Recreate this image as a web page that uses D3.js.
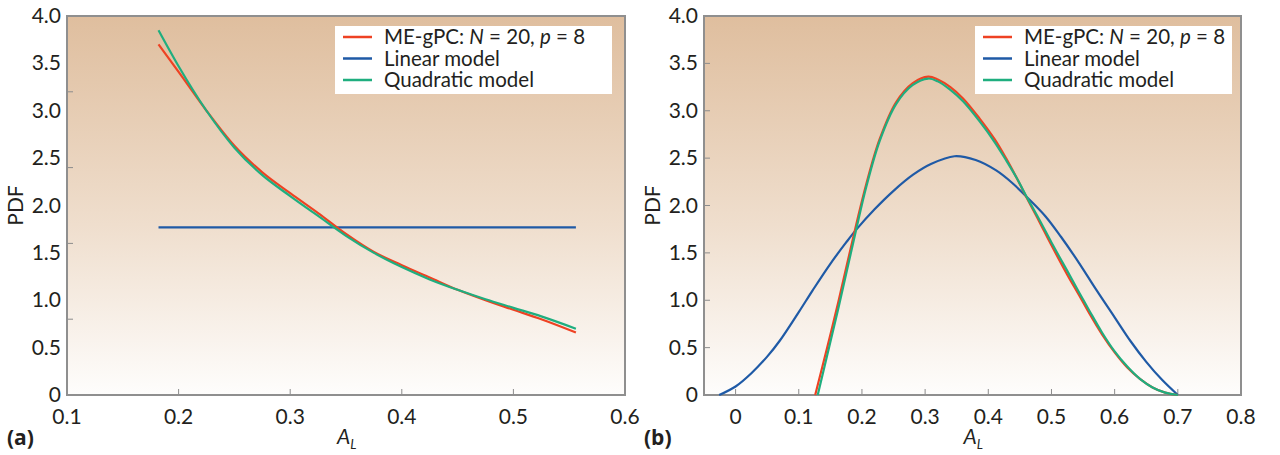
<!DOCTYPE html>
<html>
<head>
<meta charset="utf-8">
<script src="https://cdn.jsdelivr.net/npm/d3@7"></script>
<style>
  body { margin: 0; background: #fff; }
  svg text { font-family: Lato, "Open Sans", sans-serif; fill: #231f20; }
</style>
</head>
<body>
<svg id="chart" width="1280" height="455"></svg>
<script>
// Panel (a): PDF over A_L
const aX = [0.182, 0.2, 0.225, 0.25, 0.275, 0.3, 0.325, 0.35, 0.375, 0.4, 0.425, 0.45, 0.475, 0.5, 0.525, 0.556];
const aMegpc = [3.70, 3.41, 3.00, 2.63, 2.35, 2.13, 1.92, 1.70, 1.51, 1.37, 1.24, 1.11, 1.00, 0.90, 0.80, 0.66];
const aQuad = [3.85, 3.47, 3.00, 2.61, 2.32, 2.10, 1.89, 1.68, 1.50, 1.35, 1.22, 1.11, 1.01, 0.92, 0.83, 0.70];
const aLinX = [0.182, 0.556];
const aLin = [1.77, 1.77];

// Panel (b)
const bQuadX = [0.130, 0.145, 0.1625, 0.191, 0.207, 0.228, 0.254, 0.28, 0.305, 0.32, 0.34, 0.36, 0.386, 0.41, 0.428, 0.445, 0.4625, 0.48, 0.5, 0.525, 0.544, 0.56, 0.58, 0.6, 0.62, 0.64, 0.66, 0.68, 0.7];
const bQuad = [0, 0.42, 0.91, 1.75, 2.20, 2.68, 3.07, 3.27, 3.34, 3.31, 3.22, 3.10, 2.89, 2.67, 2.48, 2.29, 2.07, 1.86, 1.61, 1.31, 1.08, 0.89, 0.66, 0.46, 0.30, 0.17, 0.08, 0.025, 0];
const bMegpcX = [0.126, 0.145, 0.1625, 0.191, 0.207, 0.228, 0.254, 0.28, 0.305, 0.32, 0.34, 0.36, 0.386, 0.41, 0.428, 0.445, 0.4625, 0.48, 0.5, 0.525, 0.544, 0.56, 0.58, 0.6, 0.62, 0.64, 0.66, 0.68, 0.7];
const bMegpc = [0, 0.50, 0.98, 1.80, 2.23, 2.70, 3.09, 3.29, 3.36, 3.33, 3.25, 3.13, 2.92, 2.70, 2.50, 2.29, 2.06, 1.84, 1.58, 1.27, 1.05, 0.86, 0.64, 0.45, 0.29, 0.17, 0.08, 0.025, 0];
const bLinX = [-0.026, 0, 0.025, 0.05, 0.0696, 0.1, 0.122, 0.15, 0.175, 0.191, 0.22, 0.25, 0.281, 0.31, 0.3465, 0.38, 0.4125, 0.4375, 0.4625, 0.49, 0.515, 0.544, 0.57, 0.6, 0.625, 0.65, 0.675, 0.7];
const bLin = [0, 0.09, 0.23, 0.405, 0.57, 0.875, 1.105, 1.385, 1.61, 1.745, 1.96, 2.155, 2.325, 2.44, 2.52, 2.48, 2.37, 2.24, 2.08, 1.89, 1.67, 1.39, 1.12, 0.82, 0.57, 0.35, 0.16, 0];

const yLabels = [0, 0.5, 1.0, 1.5, 2.0, 2.5, 3.0, 3.5, 4.0];
const aYTicks = [0.8, 1.6, 2.4, 3.2];
const aXTicks = [0.1, 0.2, 0.3, 0.4, 0.5, 0.6];
const bXTicks = [0, 0.1, 0.2, 0.3, 0.4, 0.5, 0.6, 0.7, 0.8];

const colors = { megpc: '#ee4223', lin: '#1f5aa6', quad: '#1fae7f' };

const svg = d3.select('#chart');

const defs = svg.append('defs');
const grad = defs.append('linearGradient')
    .attr('id', 'bg').attr('x1', 0).attr('y1', 0).attr('x2', 0).attr('y2', 1);
grad.append('stop').attr('offset', '0%').attr('stop-color', '#dfbe9e');
grad.append('stop').attr('offset', '55%').attr('stop-color', '#efdecd');
grad.append('stop').attr('offset', '100%').attr('stop-color', '#fefdfc');

function fmt(v) { return v === 0 ? '0' : d3.format('.1f')(v); }

function drawPanel(opt) {
    const x = d3.scaleLinear().domain(opt.xDomain).range([opt.left, opt.right]);
    const y = d3.scaleLinear().domain([0, 4]).range([395, 16]);
    const g = svg.append('g');

    g.append('rect')
        .attr('x', opt.left).attr('y', 16)
        .attr('width', opt.right - opt.left).attr('height', 395 - 16)
        .attr('fill', 'url(#bg)');

    // inward tick marks
    g.append('g').selectAll('line').data(opt.yTicks).join('line')
        .attr('x1', opt.left).attr('x2', opt.left + 6)
        .attr('y1', d => y(d)).attr('y2', d => y(d))
        .attr('stroke', '#8c8c8c').attr('stroke-width', 1);
    g.append('g').selectAll('line').data(opt.xTicks.filter(d => d > opt.xDomain[0] && d < opt.xDomain[1])).join('line')
        .attr('x1', d => x(d)).attr('x2', d => x(d))
        .attr('y1', 395).attr('y2', 389)
        .attr('stroke', '#8c8c8c').attr('stroke-width', 1);

    g.append('rect')
        .attr('x', opt.left).attr('y', 16)
        .attr('width', opt.right - opt.left).attr('height', 395 - 16)
        .attr('fill', 'none').attr('stroke', '#8f8f8f').attr('stroke-width', 2);

    g.append('g').selectAll('text').data(yLabels).join('text')
        .attr('x', opt.left - 6).attr('y', d => y(d) + 7)
        .attr('text-anchor', 'end').attr('font-size', 21)
        .text(fmt);
    g.append('g').selectAll('text').data(opt.xTicks).join('text')
        .attr('x', d => x(d)).attr('y', 424)
        .attr('text-anchor', 'middle').attr('font-size', 21)
        .text(fmt);

    g.append('text')
        .attr('transform', `translate(${opt.left - 44},${y(2)}) rotate(-90)`)
        .attr('text-anchor', 'middle').attr('font-size', 21)
        .text('PDF');

    const xl = g.append('text')
        .attr('x', (opt.left + opt.right) / 2 - 9).attr('y', 444)
        .attr('font-size', 21);
    xl.append('tspan').attr('font-style', 'italic').text('A');
    xl.append('tspan').attr('font-style', 'italic').attr('font-size', 13).attr('dy', 5).text('L');

    g.append('text')
        .attr('x', opt.left - 60).attr('y', 445)
        .attr('font-size', 21).attr('font-weight', 'bold')
        .style('font-family', '"Open Sans", "Liberation Sans", sans-serif')
        .text(opt.tag);

    const line = d3.line().x(d => x(d[0])).y(d => y(d[1])).curve(opt.curve);
    opt.series.forEach(s => {
        g.append('path')
            .datum(d3.zip(s.x, s.y))
            .attr('d', line)
            .attr('fill', 'none')
            .attr('stroke', s.color)
            .attr('stroke-width', 2.2);
    });

    // legend
    const lg = g.append('g').attr('transform', `translate(${opt.legendX},26)`);
    lg.append('rect').attr('width', opt.legendW).attr('height', 68).attr('fill', '#fff');
    const items = [
        { color: colors.megpc, parts: [['ME-gPC: ', 'normal'], ['N', 'italic'], [' = 20, ', 'normal'], ['p', 'italic'], [' = 8', 'normal']] },
        { color: colors.lin, parts: [['Linear model', 'normal']] },
        { color: colors.quad, parts: [['Quadratic model', 'normal']] }
    ];
    items.forEach((it, i) => {
        const cy = 11 + i * 21.5;
        lg.append('line').attr('x1', 8).attr('x2', 37).attr('y1', cy).attr('y2', cy)
            .attr('stroke', it.color).attr('stroke-width', 2.5);
        const t = lg.append('text').attr('x', 49).attr('y', cy + 7).attr('font-size', 20.5);
        it.parts.forEach(p => t.append('tspan').attr('font-style', p[1]).text(p[0]));
    });
}

drawPanel({
    left: 67, right: 625, xDomain: [0.1, 0.6], xTicks: aXTicks, yTicks: aYTicks, tag: '(a)',
    legendX: 335, legendW: 277, curve: d3.curveMonotoneX,
    series: [
        { x: aLinX, y: aLin, color: colors.lin },
        { x: aX, y: aMegpc, color: colors.megpc },
        { x: aX, y: aQuad, color: colors.quad }
    ]
});

drawPanel({
    left: 704, right: 1241, xDomain: [-0.05, 0.8], xTicks: bXTicks, yTicks: yLabels.slice(1, -1), tag: '(b)',
    legendX: 975, legendW: 257, curve: d3.curveCatmullRom.alpha(0.5),
    series: [
        { x: bLinX, y: bLin, color: colors.lin },
        { x: bMegpcX, y: bMegpc, color: colors.megpc },
        { x: bQuadX, y: bQuad, color: colors.quad }
    ]
});
</script>
</body>
</html>
